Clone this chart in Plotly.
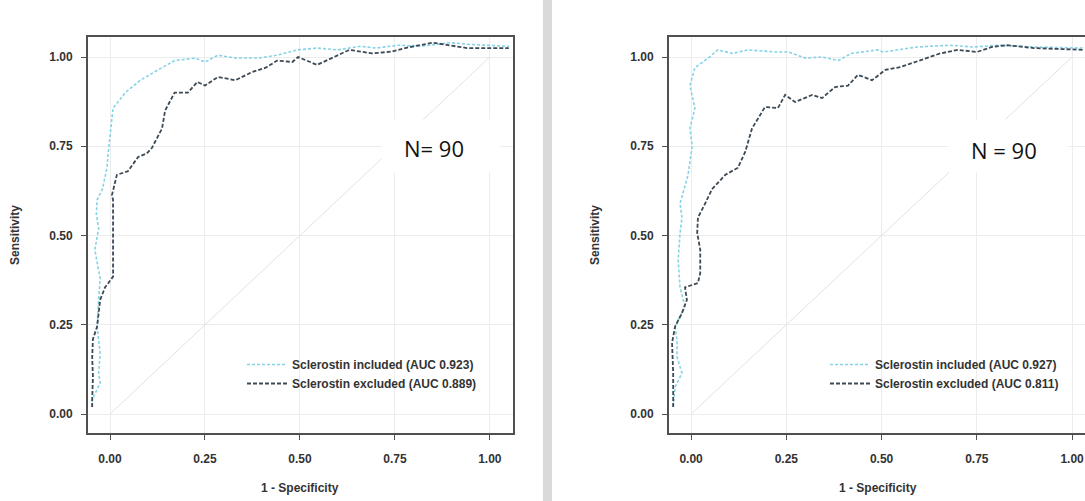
import plotly.graph_objects as go

# ---------------- data ----------------
tick_vals = [0, 0.25, 0.5, 0.75, 1.0]
tick_text = ["0.00", "0.25", "0.50", "0.75", "1.00"]

names = ["Sclerostin included", "Sclerostin excluded"]
auc_left = ["0.923", "0.889"]
auc_right = ["0.927", "0.811"]
n_labels = ["N= 90", "N = 90"]

# left panel, sclerostin included
l_inc_x = [-0.047, -0.047, -0.026, -0.030, -0.026, -0.034, -0.030, -0.026, -0.040, -0.030,
           -0.036, -0.034, -0.020, -0.008, -0.005, 0.000, 0.008, 0.040, 0.080, 0.120,
           0.170, 0.224, 0.250, 0.284, 0.330, 0.390, 0.440, 0.495, 0.545, 0.600,
           0.660, 0.700, 0.760, 0.820, 0.895, 0.950, 1.050]
l_inc_y = [0.020, 0.040, 0.087, 0.115, 0.170, 0.245, 0.320, 0.380, 0.460, 0.520,
           0.560, 0.600, 0.630, 0.690, 0.730, 0.780, 0.857, 0.900, 0.935, 0.960,
           0.990, 0.997, 0.986, 1.005, 0.997, 0.997, 1.005, 1.020, 1.025, 1.020,
           1.030, 1.025, 1.033, 1.030, 1.040, 1.035, 1.030]

# left panel, sclerostin excluded
l_exc_x = [-0.047, -0.047, -0.045, -0.047, -0.045, -0.034, -0.026, -0.013, 0.008, 0.008,
           0.008, 0.005, 0.018, 0.047, 0.074, 0.097, 0.110, 0.137, 0.145, 0.170,
           0.205, 0.230, 0.250, 0.284, 0.330, 0.374, 0.410, 0.440, 0.480, 0.495,
           0.545, 0.590, 0.630, 0.690, 0.740, 0.790, 0.850, 0.940, 1.050]
l_exc_y = [0.020, 0.040, 0.105, 0.160, 0.210, 0.245, 0.320, 0.355, 0.385, 0.460,
           0.600, 0.613, 0.670, 0.680, 0.720, 0.730, 0.745, 0.800, 0.850, 0.900,
           0.900, 0.930, 0.920, 0.944, 0.935, 0.958, 0.970, 0.990, 0.986, 1.000,
           0.978, 1.000, 1.020, 1.010, 1.015, 1.028, 1.040, 1.025, 1.025]

# right panel, sclerostin included
r_inc_x = [-0.047, -0.042, -0.024, -0.037, -0.037, -0.042, -0.016, -0.029, -0.034, -0.029,
           -0.024, -0.029, -0.008, 0.003, -0.003, 0.010, -0.003, 0.010, 0.045, 0.070,
           0.108, 0.150, 0.220, 0.255, 0.300, 0.344, 0.386, 0.420, 0.490, 0.504,
           0.593, 0.680, 0.740, 0.810, 0.900, 1.030]
r_inc_y = [0.020, 0.076, 0.115, 0.160, 0.207, 0.245, 0.300, 0.355, 0.430, 0.507,
           0.550, 0.590, 0.670, 0.750, 0.800, 0.857, 0.920, 0.970, 0.997, 1.020,
           1.010, 1.020, 1.014, 1.014, 0.997, 1.000, 0.990, 1.010, 1.020, 1.014,
           1.028, 1.033, 1.028, 1.033, 1.028, 1.025]

# right panel, sclerostin excluded
r_exc_x = [-0.047, -0.047, -0.050, -0.042, -0.024, -0.011, -0.016, 0.018, 0.024, 0.024,
           0.016, 0.018, 0.037, 0.055, 0.090, 0.123, 0.142, 0.160, 0.186, 0.194,
           0.228, 0.247, 0.273, 0.318, 0.344, 0.378, 0.412, 0.438, 0.475, 0.510,
           0.550, 0.600, 0.654, 0.700, 0.750, 0.790, 0.830, 0.900, 1.030]
r_exc_y = [0.020, 0.115, 0.200, 0.245, 0.283, 0.320, 0.355, 0.367, 0.395, 0.460,
           0.507, 0.550, 0.590, 0.630, 0.670, 0.690, 0.734, 0.800, 0.846, 0.860,
           0.857, 0.894, 0.874, 0.894, 0.885, 0.916, 0.920, 0.950, 0.935, 0.964,
           0.972, 0.990, 1.010, 1.020, 1.014, 1.028, 1.033, 1.025, 1.020]

diag = [0, 1]

# ---------------- styling ----------------
C_INC = "#86d2e6"
C_EXC = "#3c4a56"
GRID = "#ececec"
FRAME = "#505050"
TXT = "#333333"
FONT = "Liberation Sans"

W, H = 1085, 501
ML, MR, MT, MB = 88, 0, 37, 68
PW = W - ML - MR
PH = H - MT - MB

def px2paper_x(px):
    return (px - ML) / PW

def px2paper_y(py):
    return (H - MB - py) / PH

fig = go.Figure()

panels = [
    ("x", "y", "legend", l_inc_x, l_inc_y, l_exc_x, l_exc_y, auc_left),
    ("x2", "y2", "legend2", r_inc_x, r_inc_y, r_exc_x, r_exc_y, auc_right),
]

for xa, ya, lg, ix, iy, ex, ey, aucs in panels:
    fig.add_trace(go.Scatter(x=diag, y=diag, mode="lines", xaxis=xa, yaxis=ya,
                             line=dict(color="#e2e2e2", width=1), showlegend=False,
                             hoverinfo="skip"))
    fig.add_trace(go.Scatter(x=ix, y=iy, mode="lines", xaxis=xa, yaxis=ya, legend=lg,
                             name=f"{names[0]} (AUC {aucs[0]})",
                             line=dict(color=C_INC, width=1.6, dash="3px,2px")))
    fig.add_trace(go.Scatter(x=ex, y=ey, mode="lines", xaxis=xa, yaxis=ya, legend=lg,
                             name=f"{names[1]} (AUC {aucs[1]})",
                             line=dict(color=C_EXC, width=1.8, dash="4px,2px")))

axis_common = dict(
    tickvals=tick_vals, ticktext=tick_text, showgrid=True, gridcolor=GRID, gridwidth=1,
    zeroline=False, showline=True, linecolor=FRAME, linewidth=2,
    ticks="outside", ticklen=5, tickwidth=1.3, tickcolor=FRAME,
    tickfont=dict(family=FONT, size=12, color=TXT, weight="bold"),
)

left_dom = [0, px2paper_x(513)]
right_dom = [px2paper_x(669), 1.0]

fig.update_layout(
    xaxis=dict(domain=left_dom, range=[-0.058, 1.061], anchor="y", mirror=True,
               ticklabelstandoff=9, **axis_common),
    yaxis=dict(domain=[0, 1], range=[-0.053, 1.056], anchor="x", mirror=True,
               ticklabelstandoff=6, **axis_common),
    xaxis2=dict(domain=right_dom, range=[-0.058, 1.034], anchor="y2", mirror=True,
                ticklabelstandoff=9, **axis_common),
    yaxis2=dict(domain=[0, 1], range=[-0.053, 1.056], anchor="x2", mirror=False,
                ticklabelstandoff=6, **axis_common),
)

legend_common = dict(
    bgcolor="rgba(255,255,255,0)", borderwidth=0, itemwidth=40,
    font=dict(family=FONT, size=12, color=TXT, weight="bold"),
    xanchor="left", yanchor="top", tracegroupgap=0, itemclick=False,
)
fig.update_layout(
    legend=dict(x=px2paper_x(242), y=px2paper_y(350), **legend_common),
    legend2=dict(x=px2paper_x(825), y=px2paper_y(350), **legend_common),
)

annotations = []
# axis titles
for cx in (px2paper_x(300), px2paper_x(878)):
    annotations.append(dict(text="1 - Specificity", x=cx, y=px2paper_y(488),
                            xref="paper", yref="paper", showarrow=False,
                            xanchor="center", yanchor="middle",
                            font=dict(family=FONT, size=12, color=TXT, weight="bold")))
for cx in (px2paper_x(15), px2paper_x(595)):
    annotations.append(dict(text="Sensitivity", x=cx, y=px2paper_y(235), textangle=-90,
                            xref="paper", yref="paper", showarrow=False,
                            xanchor="center", yanchor="middle",
                            font=dict(family=FONT, size=12, color=TXT, weight="bold")))
# N boxes (white background patch + text)
annotations.append(dict(text=" ", x=0.871, y=0.751, xref="x", yref="y", showarrow=False,
                        width=118, height=52, bgcolor="white", borderpad=0))
annotations.append(dict(text=n_labels[0], x=0.854, y=0.745, xref="x", yref="y",
                        showarrow=False,
                        font=dict(family="Open Sans", size=22, color="#111111")))
annotations.append(dict(text=" ", x=0.833, y=0.751, xref="x2", yref="y2", showarrow=False,
                        width=118, height=52, bgcolor="white", borderpad=0))
annotations.append(dict(text=n_labels[1], x=0.822, y=0.74, xref="x2", yref="y2",
                        showarrow=False,
                        font=dict(family="Open Sans", size=22, color="#111111")))

fig.update_layout(annotations=annotations)

# vertical separator between the two panels
fig.add_shape(type="rect", xref="paper", yref="paper",
              x0=px2paper_x(543), x1=px2paper_x(552),
              y0=px2paper_y(H), y1=px2paper_y(0),
              fillcolor="#dadada", line=dict(width=0), layer="below")

fig.update_layout(
    width=W, height=H, margin=dict(l=ML, r=MR, t=MT, b=MB),
    paper_bgcolor="white", plot_bgcolor="white",
)

fig.write_html("out.html", config={"displayModeBar": False},
               post_script="document.body.style.margin='0';document.body.style.overflow='hidden';")
